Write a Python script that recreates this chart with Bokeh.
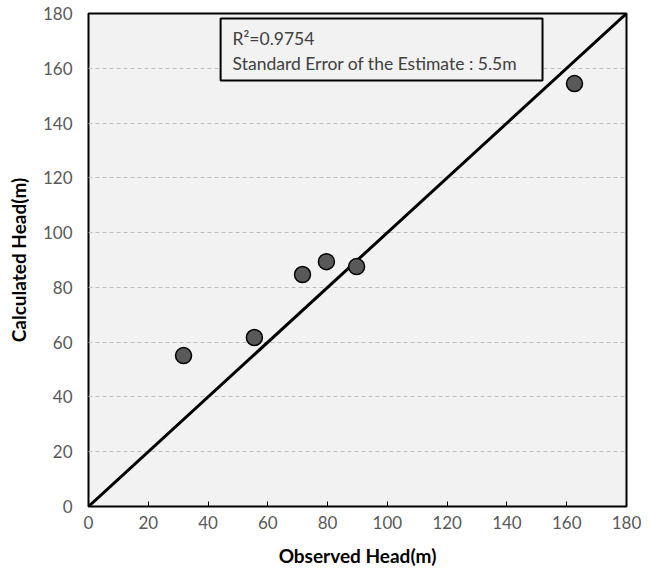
from bokeh.plotting import figure
from bokeh.models import Range1d, FixedTicker, ColumnDataSource
from bokeh.core.properties import value
from bokeh.embed import file_html
from bokeh.resources import INLINE

observed = [31.8, 55.5, 71.6, 79.6, 89.7, 162.6]
calculated = [55.1, 61.7, 84.7, 89.4, 87.6, 154.4]
ticks = [0, 20, 40, 60, 80, 100, 120, 140, 160, 180]
line_x = [0, 180]
line_y = [0, 180]
stat_lines = ["R\u00b2=0.9754", "Standard Error of the Estimate : 5.5m"]

FONT = "Lato"

p = figure(width=650, height=572, output_backend="svg", toolbar_location=None,
           x_range=Range1d(0, 180), y_range=Range1d(0, 180),
           min_border_left=88, min_border_right=24, min_border_top=13, min_border_bottom=66)

p.background_fill_color = "#f2f2f2"
p.border_fill_color = "white"
p.outline_line_color = "black"
p.outline_line_width = 2

p.xgrid.grid_line_color = None
p.ygrid.grid_line_color = "#c0c0c0"
p.ygrid.grid_line_dash = "4 3"
p.ygrid.grid_line_width = 1

for ax in (p.xaxis[0], p.yaxis[0]):
    ax.ticker = FixedTicker(ticks=ticks)
    ax.axis_line_color = None
    ax.minor_tick_line_color = None
    ax.major_label_text_font = FONT
    ax.major_label_text_font_size = "17px"
    ax.major_label_text_color = "#595959"
    ax.axis_label_text_font = FONT
    ax.axis_label_text_font_size = "19px"
    ax.axis_label_text_font_style = "bold"
    ax.axis_label_text_color = "black"

p.xaxis.major_tick_in = 5
p.xaxis.major_tick_out = 0
p.xaxis.major_tick_line_color = "black"
p.xaxis.major_label_standoff = 9
p.xaxis.axis_label = "Observed Head(m)"
p.xaxis.axis_label_standoff = 12

p.yaxis.major_tick_in = 0
p.yaxis.major_tick_out = 0
p.yaxis.major_label_standoff = 16
p.yaxis.axis_label = "Calculated Head(m)"
p.yaxis.axis_label_standoff = 10

p.line(line_x, line_y, line_color="black", line_width=3)

src = ColumnDataSource(dict(x=observed, y=calculated))
p.scatter("x", "y", source=src, size=16, fill_color="#595959", line_color="black", line_width=1.5)

# statistics box
p.quad(left=[44.2], right=[151.9], bottom=[155.5], top=[178.2],
       fill_color="#f2f2f2", line_color="black", line_width=2)
p.text(x=[48.2, 48.2], y=[170.9, 161.7], text=stat_lines,
       text_font=value(FONT), text_font_size="17.5px", text_color="#404040",
       text_baseline="middle", text_align="left")

open("out.html", "w").write(file_html(p, INLINE))
